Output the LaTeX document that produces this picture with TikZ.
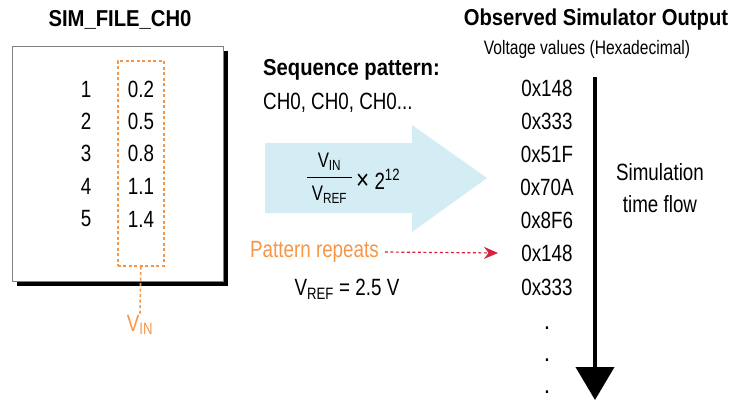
\documentclass[tikz,border=0pt]{standalone}
\usepackage{fontspec}
\setmainfont{Liberation Sans}[FakeStretch=0.8, BoldFeatures={FakeStretch=0.88}]
\usetikzlibrary{arrows.meta,shadows}
\definecolor{orng}{RGB}{247,150,70}
\definecolor{lblue}{RGB}{212,236,243}
\definecolor{dred}{RGB}{214,32,64}
\tikzset{
  txt/.style={inner sep=0pt, font=\fontsize{23.5}{26}\selectfont},
  small/.style={inner sep=0pt, font=\fontsize{19.5}{22}\selectfont},
  bold/.style={inner sep=0pt, font=\fontsize{23}{26}\selectfont\bfseries},
  dotstyle/.style={inner sep=0pt, font=\fontsize{18}{18}\selectfont\bfseries, anchor=south},
  orngdash/.style={draw=orng, line width=1.6pt, dash pattern=on 3pt off 2.5pt},
}
\begin{document}
\begin{tikzpicture}[x=1pt,y=-1pt]
\useasboundingbox (0,0) rectangle (731,400);
% left file box
\node[bold] (title) at (120,20) {SIM\_FILE\_CH0};
\node[draw=gray, line width=0.8pt, fill=white, minimum width=211pt, minimum height=235pt, anchor=north west,
      drop shadow={shadow xshift=5pt, shadow yshift=-5pt, fill=black, opacity=1}] (file) at (12,46) {};
\node[orngdash, minimum width=46pt, minimum height=205pt, anchor=north west] (vinbox) at (117,60) {};
\foreach \n/\v/\y in {1/0.2/89, 2/0.5/121, 3/0.8/153, 4/1.1/186, 5/1.4/219}{
  \node[txt] (n\n) at (86,\y) {\n};
  \node[txt] (v\n) at (141,\y) {\v};
}
\node[txt, text=orng] (vin) at (140,325) {V\textsubscript{IN}};
\draw[orngdash] (vinbox.south) -- (vin.north);
% middle
\node[bold, anchor=west] (seq) at (263,70) {Sequence pattern:};
\node[txt, anchor=west] (ch) at (263,103) {CH0, CH0, CH0...};
\fill[lblue] (265,143) -- (412,143) -- (412,125) -- (487,178) -- (412,232) -- (412,213) -- (265,213) -- cycle;
\node[txt, font=\fontsize{21}{24}\selectfont] (num) at (329.5,162) {V\textsubscript{IN}};
\node[txt, font=\fontsize{21}{24}\selectfont] (den) at (329.5,195) {V\textsubscript{REF}};
\draw[line width=1pt] (307,177) -- (352,177);
\node[txt, anchor=west] (times) at (356,179) {{\fontsize{28}{28}\selectfont ×} 2\textsuperscript{12}};
\node[txt, text=orng, anchor=west] (rep) at (250,252) {Pattern repeats};
\node[txt] (vref) at (347,289) {V\textsubscript{REF} = 2.5 V};
% right
\node[bold] (obs) at (596,20) {Observed Simulator Output};
\node[small] (volt) at (587,49) {Voltage values (Hexadecimal)};
\foreach \i/\h/\y in {1/0x148/88, 2/0x333/121, 3/0x51F/154, 4/0x70A/187, 5/0x8F6/220, 6/0x148/253, 7/0x333/287}{
  \node[txt] (h\i) at (547,\y) {\h};
}
\foreach \i/\y in {1/330, 2/362, 3/394}{
  \node[dotstyle] (d\i) at (547,\y) {.};
}
\coordinate (ttop) at (595,77);
\coordinate (tbot) at (595,400);
\draw[line width=4pt, -{Triangle[width=38pt,length=33pt]}] (ttop) -- (tbot);
\node[txt, align=center] (flow) at (660,188) {Simulation\\[6pt]time flow};
\draw[dred, line width=1.2pt, dash pattern=on 3pt off 2.5pt, -{Stealth[length=14pt,width=12pt]}] (rep.east) ++(6,0) coordinate (rs) -- (h6.west -| 498,0);
\end{tikzpicture}
\end{document}
